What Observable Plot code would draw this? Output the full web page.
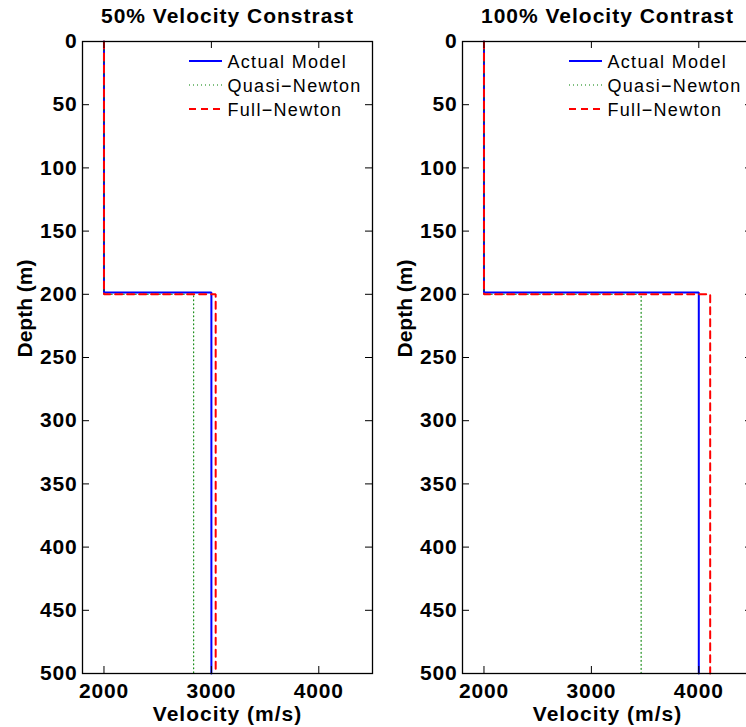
<!DOCTYPE html>
<html><head><meta charset="utf-8">
<script src="https://cdn.jsdelivr.net/npm/d3@7"></script>
<script src="https://cdn.jsdelivr.net/npm/@observablehq/plot@0.6"></script>
<style>
html,body{margin:0;padding:0;background:#fff;width:746px;height:727px;overflow:hidden;}
#wrap{position:relative;width:746px;height:727px;overflow:hidden;background:#fff;}
.panel{position:absolute;top:0;width:380px;height:727px;}
.panel svg{max-width:none !important;width:380px;height:727px;}
</style></head><body><div id="wrap"></div>
<script>
// ---- data ----
const depthTicks = [0, 50, 100, 150, 200, 250, 300, 350, 400, 450, 500];
const velocityTicks = [2000, 3000, 4000];
const seriesNames = ["Actual Model", "Quasi\u2212Newton", "Full\u2212Newton"];
const panelTitles = ["50% Velocity Constrast", "100% Velocity Contrast"];

const depthTrue = [0, 198.5, 198.5, 500];
const depthInv = [0, 200, 200, 500];

const v50Actual = [2000, 2000, 3000, 3000];
const v50Quasi  = [2000, 2000, 2835, 2835];
const v50Full   = [2000, 2000, 3040, 3040];

const v100Actual = [2000, 2000, 4000, 4000];
const v100Quasi  = [2000, 2000, 3463, 3463];
const v100Full   = [2000, 2000, 4106, 4106];

// ---- drawing ----
const FONT = "'Liberation Sans', Arial, Helvetica, sans-serif";
const styles = [
  {stroke: "#0000ff", strokeWidth: 2, dash: null},
  {stroke: "#008000", strokeWidth: 1.1, dash: "1,3"},
  {stroke: "#ff0000", strokeWidth: 2, dash: "7,5"}
];

function rows(v, d) { return v.map((x, i) => ({velocity: x, depth: d[i]})); }

function panel(title, actual, quasi, full, leftPx) {
  const W = 380, H = 727, mL = 82, mR = 8, mT = 41, mB = 54;
  const innerW = W - mL - mR, innerH = H - mT - mB;
  const svg = Plot.plot({
    width: W, height: H,
    marginLeft: mL, marginRight: mR, marginTop: mT, marginBottom: mB,
    style: {fontFamily: FONT, background: "white", color: "black", overflow: "visible"},
    x: {domain: [1800, 4500]},
    y: {domain: [0, 500], reverse: true},
    marks: [
      Plot.line(rows(actual, depthTrue), {x: "velocity", y: "depth", stroke: styles[0].stroke, strokeWidth: styles[0].strokeWidth, strokeLinejoin: "miter"}),
      Plot.line(rows(quasi, depthInv), {x: "velocity", y: "depth", stroke: styles[1].stroke, strokeWidth: styles[1].strokeWidth, strokeDasharray: styles[1].dash}),
      Plot.line(rows(full, depthInv), {x: "velocity", y: "depth", stroke: styles[2].stroke, strokeWidth: styles[2].strokeWidth, strokeDasharray: styles[2].dash, strokeLinejoin: "miter"}),
      Plot.tickY(depthTicks, {y: d => d, insetRight: innerW - 7, stroke: "black", strokeWidth: 1}),
      Plot.tickY(depthTicks, {y: d => d, insetLeft: innerW - 7, stroke: "black", strokeWidth: 1}),
      Plot.tickX(velocityTicks, {x: d => d, insetTop: innerH - 7, stroke: "black", strokeWidth: 1}),
      Plot.tickX(velocityTicks, {x: d => d, insetBottom: innerH - 7, stroke: "black", strokeWidth: 1}),
      Plot.axisY(depthTicks, {tickSize: 0, tickPadding: 5, label: null, tickFormat: d => String(d), fontSize: 21, fontWeight: "bold"}),
      Plot.axisX(velocityTicks, {tickSize: 0, tickPadding: 10, label: null, tickFormat: d => String(d), fontSize: 21, fontWeight: "bold"}),
      Plot.frame({stroke: "black", strokeWidth: 1.3}),
      Plot.text([title], {frameAnchor: "top", lineAnchor: "bottom", dy: -19, fontSize: 21, fontWeight: "bold", fill: "black"}),
      Plot.text(["Velocity (m/s)"], {frameAnchor: "bottom", lineAnchor: "bottom", dy: 47, fontSize: 21, fontWeight: "bold", fill: "black"}),
      Plot.text(["Depth (m)"], {frameAnchor: "left", lineAnchor: "bottom", rotate: -90, dx: -51, fontSize: 21, fontWeight: "bold", fill: "black"})
    ]
  });
  const s = d3.select(svg);
  s.selectAll('g[aria-label="y-axis tick label"] text, g[aria-label="x-axis tick label"] text')
    .attr("font-size", 21).attr("font-weight", "bold").style("letter-spacing", "0.8px");
  s.selectAll('g[aria-label="text"] text').style("letter-spacing", function() {
    return this.textContent === "Depth (m)" ? "0px" : "1px";
  });
  // legend (inside, top right, no box)
  const lg = s.append("g").attr("font-family", FONT).attr("font-size", 18)
    .attr("text-anchor", "start").attr("font-weight", "normal");
  seriesNames.forEach((name, i) => {
    const yy = 61 + i * 24;
    const ln = lg.append("line").attr("x1", 189).attr("x2", 222).attr("y1", yy).attr("y2", yy)
      .attr("stroke", styles[i].stroke).attr("stroke-width", styles[i].strokeWidth);
    if (styles[i].dash) ln.attr("stroke-dasharray", styles[i].dash);
    lg.append("text").attr("x", 227.5).attr("y", yy + 6.5).attr("fill", "black")
      .attr("text-anchor", "start")
      .style("letter-spacing", "1.3px").text(name);
  });
  const div = document.createElement("div");
  div.className = "panel";
  div.style.left = leftPx + "px";
  div.appendChild(svg);
  document.getElementById("wrap").appendChild(div);
}

panel(panelTitles[0], v50Actual, v50Quasi, v50Full, 0);
panel(panelTitles[1], v100Actual, v100Quasi, v100Full, 380);
</script>
</body></html>
